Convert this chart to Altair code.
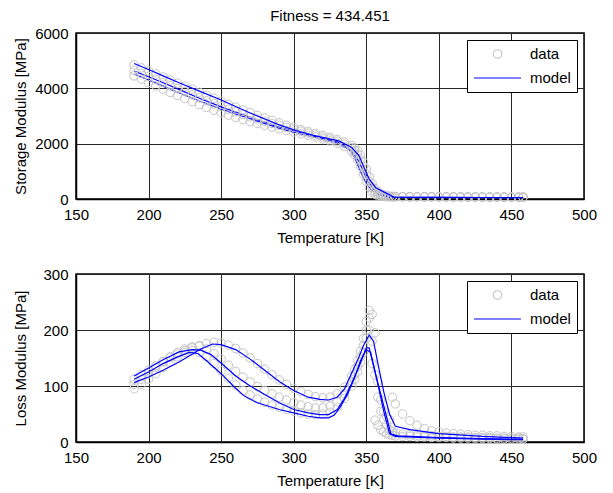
import altair as alt
import pandas as pd

FONT = "Liberation Sans"

# ---------------- measured data (temperature grid shared by all data series) ----------------
T_DATA = [190, 195, 200, 205, 210, 215, 220, 225, 230, 235, 240, 245, 250, 255, 260, 265,
          270, 275, 280, 285, 290, 295, 300, 305, 310, 315, 320, 325, 330, 335, 340,
          342, 344, 346, 348, 350, 352, 354, 356, 358, 360, 362, 364, 366, 368, 370,
          375, 380, 385, 390, 395, 400, 405, 410, 415, 420, 425, 430, 435, 440, 445, 450, 455, 458]

# Storage modulus data [MPa], three test frequencies
STORAGE_A = [4850, 4740, 4630, 4520, 4410, 4300, 4190, 4080, 3970, 3860, 3750, 3640, 3530, 3420, 3320, 3220,
             3120, 3020, 2930, 2840, 2750, 2670, 2590, 2510, 2440, 2370, 2300, 2230, 2150, 2060, 1930,
             1850, 1740, 1580, 1350, 1080, 800, 560, 380, 260, 190, 150, 120, 100, 95, 90,
             88, 86, 85, 84, 83, 82, 81, 80, 79, 78, 77, 76, 75, 74, 73, 72, 71, 70]
STORAGE_B = [4650, 4540, 4430, 4320, 4210, 4100, 3990, 3880, 3770, 3660, 3550, 3440, 3340, 3240, 3150, 3060,
             2970, 2890, 2810, 2730, 2660, 2590, 2520, 2450, 2380, 2310, 2240, 2170, 2090, 1990, 1850,
             1750, 1620, 1430, 1180, 900, 640, 420, 270, 180, 130, 110, 95, 90, 85, 85,
             82, 80, 79, 78, 77, 76, 75, 74, 73, 72, 71, 70, 69, 68, 67, 66, 65, 64]
STORAGE_C = [4450, 4330, 4210, 4090, 3970, 3850, 3740, 3630, 3520, 3410, 3310, 3210, 3120, 3030, 2950, 2870,
             2800, 2730, 2660, 2600, 2540, 2480, 2420, 2360, 2300, 2240, 2170, 2100, 2010, 1900, 1720,
             1600, 1420, 1180, 900, 640, 420, 260, 170, 120, 100, 90, 85, 80, 80, 80,
             78, 76, 75, 74, 73, 72, 71, 70, 69, 68, 67, 66, 65, 64, 63, 62, 61, 60]

# Loss modulus data [MPa]
LOSS_A = [112, 120, 128, 136, 144, 151, 157, 163, 168, 172, 176, 178, 177, 173, 167, 159,
          150, 140, 130, 120, 111, 103, 96, 90, 85, 81, 79, 80, 86, 98, 118,
          130, 145, 162, 185, 215, 235, 228, 195, 108, 75, 55, 45, 40, 80, 68,
          50, 38, 30, 24, 20, 18, 16, 15, 14, 13, 12, 12, 11, 11, 10, 10, 9, 9]
LOSS_B = [103, 112, 122, 133, 143, 152, 160, 166, 170, 171, 166, 158, 148, 137, 126, 116,
          107, 99, 92, 86, 80, 75, 70, 66, 63, 61, 61, 64, 72, 86, 108,
          120, 135, 152, 172, 200, 222, 180, 120, 80, 55, 40, 30, 22, 18, 16,
          14, 13, 12, 11, 11, 10, 10, 9, 9, 9, 8, 8, 8, 7, 7, 7, 7, 6]
LOSS_C = [95, 103, 112, 122, 133, 143, 152, 160, 163, 160, 152, 140, 127, 114, 102, 92,
          84, 77, 71, 66, 62, 58, 55, 52, 50, 49, 50, 53, 62, 78, 100,
          112, 125, 142, 160, 185, 200, 140, 39, 30, 22, 18, 15, 13, 12, 11,
          10, 10, 9, 9, 8, 8, 8, 7, 7, 7, 6, 6, 6, 5, 5, 5, 5, 5]

# ---------------- model curves ----------------
S1_T = [190, 200, 210, 221, 235, 250, 270, 290, 300, 313, 331, 340, 345, 348.5, 352, 356.5, 363, 369, 380, 400, 430, 458]
S1_V = [4900, 4680, 4450, 4200, 3900, 3580, 3110, 2680, 2500, 2310, 2100, 1860, 1560, 1130, 720, 410, 230, 70, 62, 58, 55, 52]
S2_T = [190, 200, 210, 220, 235, 250, 270, 290, 300, 313, 331, 340, 345, 348, 351, 355, 360, 366, 380, 400, 430, 458]
S2_V = [4620, 4420, 4200, 3980, 3640, 3330, 2950, 2600, 2450, 2280, 2050, 1750, 1350, 1000, 650, 350, 200, 65, 60, 57, 54, 50]
S3_T = [190, 200, 210, 220, 235, 250, 270, 290, 300, 313, 331, 338, 342, 346, 349, 353, 358, 365, 380, 400, 430, 458]
S3_V = [4520, 4300, 4080, 3860, 3540, 3250, 2900, 2560, 2420, 2250, 2000, 1800, 1500, 1000, 650, 350, 180, 55, 55, 52, 50, 48]

L1_T = [190, 200, 210, 221, 236, 244, 250, 260, 270, 280, 290, 300, 310, 318, 324, 330, 335, 338, 342, 345,
        348, 352, 355, 358, 362, 366, 370, 380, 400, 430, 458]
L1_V = [106, 116, 128, 143, 166, 175, 174, 165, 148, 128, 108, 92, 80, 76, 75, 80, 95, 112, 135, 152,
        172, 191, 180, 140, 90, 50, 28, 22, 15, 10, 7]
L2_T = [190, 200, 210, 221, 230, 236, 243, 250, 260, 270, 280, 290, 300, 310, 318, 324, 330, 335, 340, 345,
        350, 352, 356, 362, 367, 372, 400, 430, 458]
L2_V = [118, 132, 147, 161, 165, 164, 156, 141, 118, 100, 85, 70, 58, 52, 49, 49, 58, 78, 105, 135,
        168, 168, 125, 65, 14, 11, 8, 6, 5]
L3_T = [190, 200, 210, 220, 228, 234, 240, 250, 260, 266, 275, 290, 300, 310, 318, 324, 328, 332, 337, 342,
        346, 350, 353, 357, 362, 366, 370, 400, 430, 458]
L3_V = [112, 125, 140, 152, 160, 158, 145, 122, 96, 82, 70, 58, 52, 46, 43, 43, 48, 62, 85, 115,
        145, 165, 160, 115, 55, 15, 10, 7, 5, 4]

X_TICKS = [150, 200, 250, 300, 350, 400, 450, 500]
Y1_TICKS = [0, 2000, 4000, 6000]
Y2_TICKS = [0, 100, 200, 300]
SERIES = ["data", "model"]


def data_frame(series):
    rows = []
    for name, vals in series:
        for t, v in zip(T_DATA, vals):
            rows.append({"T": t, "v": v, "curve": name, "series": "data"})
    return pd.DataFrame(rows)


def model_frame(series):
    rows = []
    for name, ts, vs in series:
        for t, v in zip(ts, vs):
            rows.append({"T": t, "v": v, "curve": name})
    return pd.DataFrame(rows)


def panel(ddf, mdf_under, mdf_over, ydom, yticks, ytitle, h, title=None):
    legend = alt.Legend(title=None, orient="top-right", offset=7, fillColor="white",
                        strokeColor="black", padding=6, labelFont=FONT, labelFontSize=15,
                        labelColor="black", clipHeight=16, rowPadding=8, labelOffset=8,
                        symbolStrokeWidth=1.2, cornerRadius=0)
    xenc = alt.X("T:Q", scale=alt.Scale(domain=[150, 500], nice=False, zero=False),
                 axis=alt.Axis(values=X_TICKS, format="d", title="Temperature [K]",
                               labelFlush=False, labelOverlap=False))
    yenc = alt.Y("v:Q", scale=alt.Scale(domain=ydom, nice=False),
                 axis=alt.Axis(values=yticks, format="d", title=ytitle, labelFlush=False,
                               labelOverlap=False, minExtent=40, maxExtent=40))
    pts = alt.Chart(ddf).mark_point(filled=False, strokeWidth=1, opacity=1).encode(
        x=xenc, y=yenc,
        color=alt.Color("series:N", scale=alt.Scale(domain=SERIES, range=["#c4c4c4", "#0000ff"]), legend=legend),
        shape=alt.Shape("series:N", scale=alt.Scale(domain=SERIES, range=["circle", "stroke"]), legend=legend),
        size=alt.Size("series:N", scale=alt.Scale(domain=SERIES, range=[72, 2200], padding=0), legend=legend),
        detail="curve:N",
    )
    layers = []
    if mdf_under is not None:
        layers.append(alt.Chart(mdf_under).mark_line(color="#0000ff", strokeWidth=1.2).encode(
            x=alt.X("T:Q"), y=alt.Y("v:Q"), detail="curve:N", order="T:Q"))
    layers.append(pts)
    layers.append(alt.Chart(mdf_over).mark_line(color="#0000ff", strokeWidth=1.2).encode(
        x=alt.X("T:Q"), y=alt.Y("v:Q"), detail="curve:N", order="T:Q"))
    props = dict(width=508, height=h)
    if title:
        props["title"] = alt.Title(title, font=FONT, fontSize=15, fontWeight="normal",
                                   offset=2, anchor="middle", color="black")
    return alt.layer(*layers).properties(**props)


top = panel(
    data_frame([("a", STORAGE_A), ("b", STORAGE_B), ("c", STORAGE_C)]),
    model_frame([("2", S2_T, S2_V), ("3", S3_T, S3_V)]),
    model_frame([("1", S1_T, S1_V)]),
    [0, 6000], Y1_TICKS, "Storage Modulus [MPa]", 166, title="Fitness = 434.451",
)
bottom = panel(
    data_frame([("a", LOSS_A), ("b", LOSS_B), ("c", LOSS_C)]),
    None,
    model_frame([("1", L1_T, L1_V), ("2", L2_T, L2_V), ("3", L3_T, L3_V)]),
    [0, 300], Y2_TICKS, "Loss Modulus [MPa]", 168,
)

chart = (
    alt.vconcat(top, bottom, spacing=20)
    .resolve_scale(color="independent", shape="independent", size="independent")
    .resolve_legend(color="independent", shape="independent", size="independent")
    .properties(padding={"left": 4, "top": 0, "right": 5, "bottom": 0})
    .configure_axis(
        gridColor="#262626", gridOpacity=1, gridWidth=1,
        domainColor="black", domainWidth=1.5, ticks=False,
        labelFont=FONT, labelFontSize=15, labelColor="black", labelPadding=8,
        titleFont=FONT, titleFontSize=15, titleFontWeight="normal", titleColor="black",
        titlePadding=8,
    )
    .configure_view(stroke="black", strokeWidth=1.5)
)

chart.save("out.html", embed_options={"renderer": "svg", "actions": False})
